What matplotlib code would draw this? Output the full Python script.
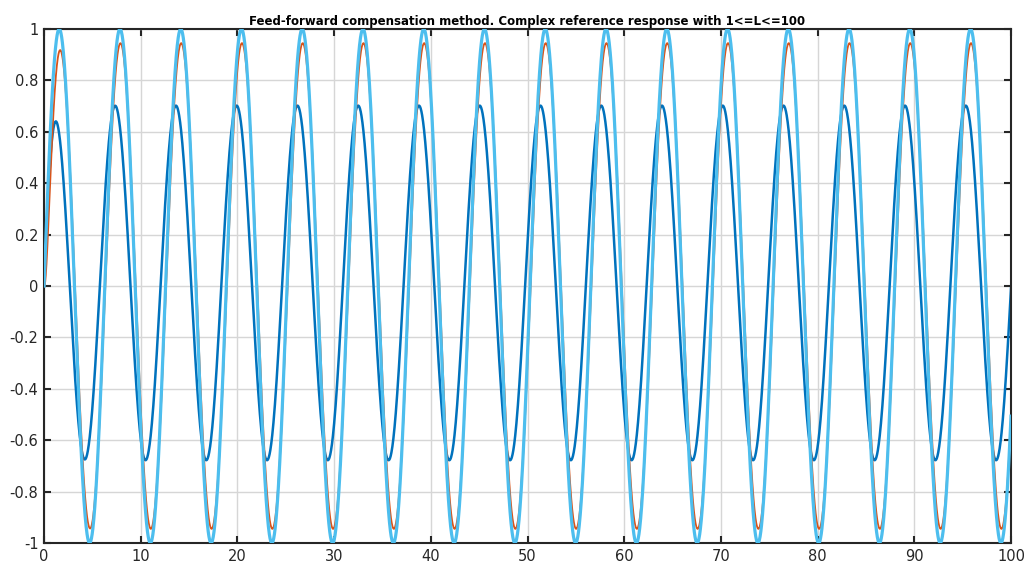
import numpy as np
import matplotlib
matplotlib.use('Agg')
import matplotlib.pyplot as plt

# values
x_range = [0, 100]
y_range = [-1, 1]
omega = 1.0                      # rad per x unit (period ~6.28)

series_names = ['output', 'compensated', 'reference']
amplitude = [0.69, 0.945, 1.0]   # steady-state amplitude
phase = [0.50, -0.05, 0.0]       # phase shift vs reference (rad)
offset = [0.012, 0.0, 0.0]
first_peak = [0.64, 0.91, 1.0]   # first cycle peak (transient)
colors = ['#0072BD', '#D95319', '#4DBEEE']
widths = [1.8, 1.3, 2.3]

x_ticks = np.arange(0, 101, 10)
y_ticks = np.round(np.arange(-1, 1.01, 0.2), 1)
y_labels = ['-1', '-0.8', '-0.6', '-0.4', '-0.2', '0', '0.2', '0.4', '0.6', '0.8', '1']

t = np.linspace(x_range[0], x_range[1], 4001)

fig = plt.figure(figsize=(10.29, 5.69), dpi=100)
ax = fig.add_axes([0.0428, 0.0457, 0.9397, 0.9033])

for i in range(3):
    # transient: first cycle amplitude grows to steady state
    env = amplitude[i] - (amplitude[i] - first_peak[i]) * np.exp(-t / 1.5)
    y = env * np.sin(omega * t + phase[i]) + offset[i]
    if i < 2:
        y = y * (1 - np.exp(-t / 0.4))
    ax.plot(t, y, color=colors[i], lw=widths[i], zorder=2 + i)

ax.set_xlim(x_range)
ax.set_ylim(y_range)
ax.set_xticks(x_ticks)
ax.set_yticks(y_ticks)
ax.set_yticklabels(y_labels)
ax.grid(True, color='#d6d6d6', lw=1.0)
ax.set_axisbelow(True)
ax.tick_params(direction='in', length=5, width=1.5, top=True, right=True,
               labelsize=10.5, labelcolor='#262626', color='#262626', pad=4)
for s in ax.spines.values():
    s.set_linewidth(1.5)
    s.set_color('#262626')

ax.set_title('Feed-forward compensation method. Complex reference response with 1<=L<=100',
             fontsize=8.5, fontweight='bold', pad=3)

fig.savefig('out.png', dpi=100)
